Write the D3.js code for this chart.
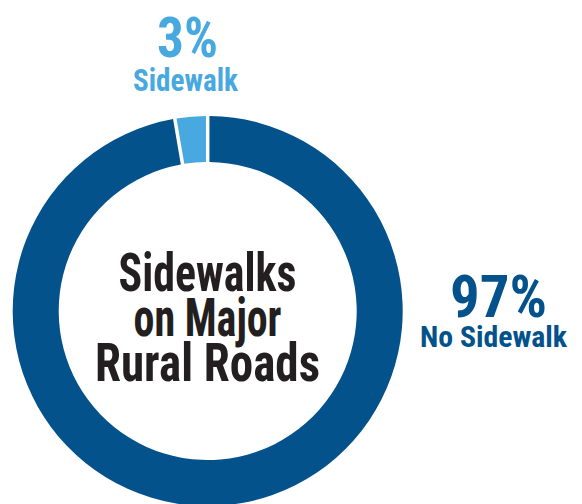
<!DOCTYPE html>
<html>
<head>
<meta charset="utf-8">
<script src="https://cdn.jsdelivr.net/npm/d3@7.9.0/dist/d3.min.js"></script>
<style>
  html, body { margin: 0; padding: 0; background: #fff; }
  svg text { font-family: "Roboto Condensed", Roboto, sans-serif; font-weight: 700; }
</style>
</head>
<body>
<svg width="582" height="504"></svg>
<script>
// slice shares (labels are rounded)
const categories = ['No Sidewalk', 'Sidewalk'];
const shares = [97.3, 2.7];
const pctLabels = ['97%', '3%'];
const colors = ['#03528c', '#47a9df'];
const centerLines = ['Sidewalks', 'on Major', 'Rural Roads'];

const svg = d3.select('svg');
const cx = 207.7, cy = 311;
const outerR = 195, innerR = 149;

let pie = d3.pie().sort(null).value((d) => d);
let arcGen = d3.arc()
  .innerRadius(innerR)
  .outerRadius(outerR)
  .padAngle(3.5 / outerR)
  .padRadius(outerR);

const g = svg.append('g').attr('transform', `translate(${cx},${cy})`);
pie(shares).forEach((a, i) => {
  g.append('path')
    .attr('d', arcGen(a))
    .attr('fill', colors[i]);
});

// centre title, squeezed to condensed widths
const lineY = [291, 336, 381];
const lineW = [178, 148, 225];
centerLines.forEach((t, i) => {
  svg.append('text')
    .attr('x', 207.5)
    .attr('y', lineY[i])
    .attr('text-anchor', 'middle')
    .attr('font-size', 53)
    .attr('fill', '#231f20')
    .attr('textLength', lineW[i])
    .attr('lengthAdjust', 'spacingAndGlyphs')
    .text(t);
});

// outside labels
function label(x, y, size, w, color, txt) {
  svg.append('text')
    .attr('x', x).attr('y', y)
    .attr('text-anchor', 'middle')
    .attr('font-size', size)
    .attr('fill', color)
    .attr('textLength', w)
    .attr('lengthAdjust', 'spacingAndGlyphs')
    .text(txt);
}
label(187.5, 57, 55, 61, colors[1], pctLabels[1]);
label(185.5, 91, 32, 105, colors[1], categories[1]);
label(498.5, 317, 59, 97, colors[0], pctLabels[0]);
label(493.5, 347, 29, 147, colors[0], categories[0]);
</script>
</body>
</html>
